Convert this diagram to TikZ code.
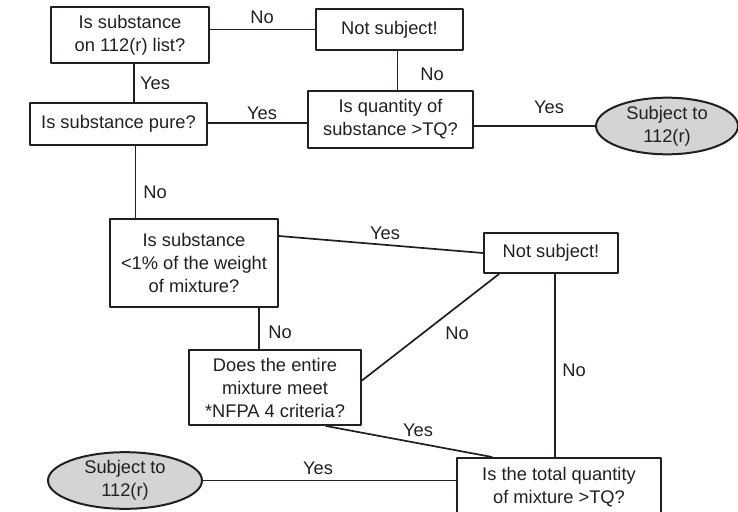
\documentclass[tikz,border=0pt]{standalone}
\usepackage{fontspec}
\setmainfont{Liberation Sans}
\usetikzlibrary{shapes.geometric}
\definecolor{ovalgray}{RGB}{212,212,212}
\definecolor{ink}{RGB}{35,31,32}
\tikzset{
  box/.style={draw=ink, line width=2pt, inner sep=0pt, align=center},
  oval/.style={draw=ink, ellipse, fill=ovalgray, line width=2pt, inner sep=0pt, align=center},
  link/.style={draw=ink, line width=1.7pt},
  lbl/.style={inner sep=0pt}
}
\begin{document}
\begin{tikzpicture}[line cap=round,line join=round, x=1pt,y=-1pt, font=\fontsize{18.3}{23}\selectfont, text=ink]
\useasboundingbox (0,0) rectangle (738,511);
\node[box, minimum width=158pt, minimum height=56pt] (onlist) at (130,35) {Is substance\\on 112(r) list?};
\node[box, minimum width=147pt, minimum height=41pt] (notsub1) at (389.5,29.5) {Not subject!};
\node[box, minimum width=177pt, minimum height=42pt] (pure) at (118.5,124) {Is substance pure?};
\node[box, minimum width=165pt, minimum height=57pt] (qty) at (390.5,119.5) {Is quantity of\\substance >TQ?};
\node[oval, minimum width=142pt, minimum height=56pt] (subj1) at (667,126) {Subject to\\112(r)};
\node[box, minimum width=168pt, minimum height=88pt] (weight) at (194,263) {Is substance\\<1\% of the weight\\of mixture?};
\node[box, minimum width=134pt, minimum height=40pt] (notsub2) at (551,253) {Not subject!};
\node[box, minimum width=172pt, minimum height=75pt] (nfpa) at (275,387.5) {Does the entire\\mixture meet\\*NFPA 4 criteria?};
\node[box, minimum width=204pt, minimum height=58pt] (total) at (559,487) {Is the total quantity\\of mixture >TQ?};
\node[oval, minimum width=154pt, minimum height=55pt] (subj2) at (125,480.5) {Subject to\\112(r)};
\draw[link] (notsub1.west) -- (notsub1.west -| onlist.east);
\draw[link] ([xshift=4pt]onlist.south) -- ([xshift=4pt]onlist.south |- pure.north);
\draw[link] ([yshift=1pt]pure.east) -- ([yshift=1pt]pure.east -| qty.west);
\draw[link] ([xshift=8pt]notsub1.south) -- ([xshift=8pt]notsub1.south |- qty.north);
\draw[link] (subj1.west) -- (subj1.west -| qty.east);
\draw[link] ([xshift=17pt]pure.south) -- ([xshift=17pt]pure.south |- weight.north);
\draw[link] ([yshift=-18pt]weight.north east) -- (notsub2.west);
\draw[link] ([xshift=-20pt]weight.south east) -- ([xshift=-20pt]weight.south east |- nfpa.north);
\draw[link] ([yshift=7pt]nfpa.east) -- ([xshift=16pt]notsub2.south west);
\draw[link] ([xshift=4pt]notsub2.south) -- ([xshift=4pt]notsub2.south |- total.north);
\draw[link] ([xshift=-36pt]nfpa.south east) -- ([xshift=36pt]total.north west);
\draw[link] (subj2.east) -- (subj2.east -| total.west);
\node[lbl] (no1) at (262,17) {No};
\node[lbl] (yes1) at (155,83) {Yes};
\node[lbl] (yes2) at (262,113) {Yes};
\node[lbl] (no2) at (432,74) {No};
\node[lbl] (yes3) at (549,107) {Yes};
\node[lbl] (no3) at (155,192) {No};
\node[lbl] (yes4) at (385,233) {Yes};
\node[lbl] (no4) at (280,332) {No};
\node[lbl] (no5) at (457,333) {No};
\node[lbl] (no6) at (574,370) {No};
\node[lbl] (yes5) at (418,430) {Yes};
\node[lbl] (yes6) at (318,468) {Yes};
\end{tikzpicture}
\end{document}
